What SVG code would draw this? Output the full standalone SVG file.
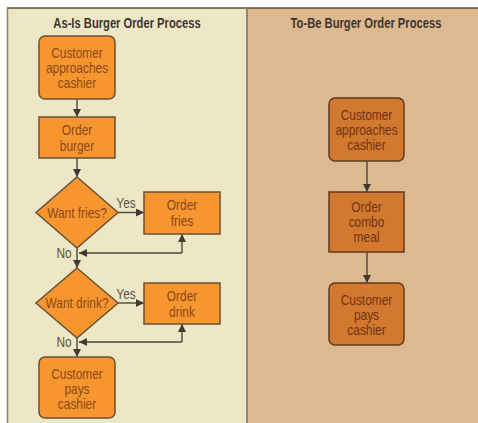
<svg xmlns="http://www.w3.org/2000/svg" width="478" height="423" viewBox="0 0 478 423">
<defs>
<style>
.t{font-family:"Liberation Sans",Arial,sans-serif;font-size:14px;text-anchor:middle}
.title{font-weight:bold;font-size:14px;fill:#3b3530}
.lt{fill:#8a4818}
.rt{fill:#6e3412}
.lb{fill:#5a534a}
.ln{fill:#F7962E;stroke:#6b5038;stroke-width:1.5}
.rn{fill:#D3782F;stroke:#5e3a22;stroke-width:1.5}
.c{stroke:#4a4540;stroke-width:1.4;fill:none;marker-end:url(#ah)}
</style>
<marker id="ah" markerUnits="userSpaceOnUse" markerWidth="8" markerHeight="8" viewBox="0 0 8 8" refX="8" refY="4" orient="auto">
<path d="M0,0 L8,4 L0,8 Z" fill="#3f3a36"/>
</marker>
</defs>
<rect x="0" y="0" width="478" height="423" fill="#ffffff"/>
<rect x="7" y="8" width="240" height="415" fill="#EDE7C6"/>
<rect x="247" y="8" width="231" height="415" fill="#DDB98F"/>
<line x1="7" y1="8" x2="478" y2="8" stroke="#5a4a3a" stroke-width="1.5"/>
<line x1="7.5" y1="8" x2="7.5" y2="423" stroke="#8a8468" stroke-width="1.5"/>
<line x1="247" y1="8" x2="247" y2="423" stroke="#7a7260" stroke-width="1.5"/>
<text class="t title" transform="translate(127,28) scale(0.8,1)">As-Is Burger Order Process</text>
<text class="t title" transform="translate(366,28) scale(0.8,1)">To-Be Burger Order Process</text>

<g id="connectors">
<line class="c" x1="77" y1="99" x2="77" y2="117"/>
<line class="c" x1="77" y1="158" x2="77" y2="177"/>
<line class="c" x1="118" y1="212.5" x2="144" y2="212.5"/>
<line class="c" x1="77" y1="248" x2="77" y2="268"/>
<line class="c" x1="182" y1="253" x2="182" y2="234"/>
<line class="c" x1="182" y1="253" x2="79" y2="253"/>
<line class="c" x1="118" y1="303" x2="144" y2="303"/>
<line class="c" x1="77" y1="338" x2="77" y2="357"/>
<line class="c" x1="182" y1="342" x2="182" y2="324"/>
<line class="c" x1="182" y1="342" x2="79" y2="342"/>
<line class="c" x1="367" y1="161" x2="367" y2="192"/>
<line class="c" x1="367" y1="252" x2="367" y2="283"/>
<text class="t lb" transform="translate(126,208) scale(0.85,1)">Yes</text>
<text class="t lb" transform="translate(64,258) scale(0.85,1)">No</text>
<text class="t lb" transform="translate(126,299) scale(0.85,1)">Yes</text>
<text class="t lb" transform="translate(64,347) scale(0.85,1)">No</text>
</g>

<g id="asis-approach">
<rect class="ln" x="39" y="36" width="76" height="63" rx="6"/>
<text class="t lt" transform="translate(77,58) scale(0.85,1)">Customer</text>
<text class="t lt" transform="translate(77,73) scale(0.85,1)">approaches</text>
<text class="t lt" transform="translate(77,88) scale(0.85,1)">cashier</text>
</g>
<g id="asis-burger">
<rect class="ln" x="39" y="117" width="76" height="41"/>
<text class="t lt" transform="translate(77,135) scale(0.85,1)">Order</text>
<text class="t lt" transform="translate(77,151) scale(0.85,1)">burger</text>
</g>
<g id="asis-fries-q">
<path class="ln" d="M77,177 L118,212.5 L77,248 L36,212.5 Z"/>
<text class="t lt" transform="translate(77,217.5) scale(0.85,1)">Want fries?</text>
</g>
<g id="asis-fries">
<rect class="ln" x="144" y="192" width="76" height="42"/>
<text class="t lt" transform="translate(182,210) scale(0.85,1)">Order</text>
<text class="t lt" transform="translate(182,226) scale(0.85,1)">fries</text>
</g>
<g id="asis-drink-q">
<path class="ln" d="M77,268 L118,303 L77,338 L36,303 Z"/>
<text class="t lt" transform="translate(77,308) scale(0.85,1)">Want drink?</text>
</g>
<g id="asis-drink">
<rect class="ln" x="144" y="283" width="76" height="41"/>
<text class="t lt" transform="translate(182,301) scale(0.85,1)">Order</text>
<text class="t lt" transform="translate(182,317) scale(0.85,1)">drink</text>
</g>
<g id="asis-pays">
<rect class="ln" x="39" y="357" width="76" height="61" rx="6"/>
<text class="t lt" transform="translate(77,379) scale(0.85,1)">Customer</text>
<text class="t lt" transform="translate(77,394) scale(0.85,1)">pays</text>
<text class="t lt" transform="translate(77,409) scale(0.85,1)">cashier</text>
</g>

<g id="tobe-approach">
<rect class="rn" x="329" y="98" width="75" height="63" rx="6"/>
<text class="t rt" transform="translate(366.5,120) scale(0.85,1)">Customer</text>
<text class="t rt" transform="translate(366.5,135) scale(0.85,1)">approaches</text>
<text class="t rt" transform="translate(366.5,150) scale(0.85,1)">cashier</text>
</g>
<g id="tobe-combo">
<rect class="rn" x="329" y="192" width="75" height="60"/>
<text class="t rt" transform="translate(366.5,212) scale(0.85,1)">Order</text>
<text class="t rt" transform="translate(366.5,227) scale(0.85,1)">combo</text>
<text class="t rt" transform="translate(366.5,242) scale(0.85,1)">meal</text>
</g>
<g id="tobe-pays">
<rect class="rn" x="329" y="283" width="75" height="62" rx="6"/>
<text class="t rt" transform="translate(366.5,305) scale(0.85,1)">Customer</text>
<text class="t rt" transform="translate(366.5,320) scale(0.85,1)">pays</text>
<text class="t rt" transform="translate(366.5,335) scale(0.85,1)">cashier</text>
</g>
</svg>
